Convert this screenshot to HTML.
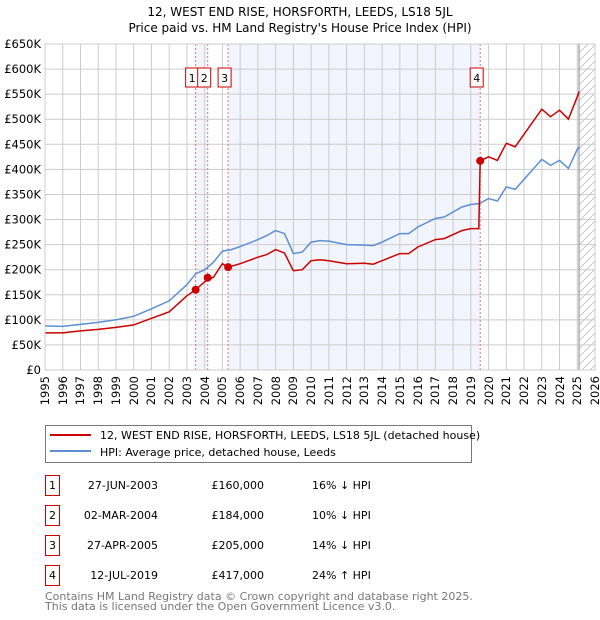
<!DOCTYPE html>
<html><head><meta charset="utf-8"><style>
body{margin:0;background:#fff;font-family:"DejaVu Sans","Liberation Sans",sans-serif;}
#wrap{position:relative;width:600px;height:620px;overflow:hidden;}
svg text{font-family:"DejaVu Sans","Liberation Sans",sans-serif;}
.xl{position:absolute;top:376px;width:40px;height:14px;line-height:14px;font-size:11.5px;text-align:right;transform-origin:100% 50%;color:#000;white-space:nowrap;}
</style></head><body><div id="wrap">
<svg id="chart" width="600" height="620" style="position:absolute;left:0;top:0"></svg>
</div>
<script>
const hpiYears=[1995,1996,1997,1998,1999,2000,2001,2002,2003,2003.5,2004,2004.5,2005,2005.5,2006,2007,2007.5,2008,2008.5,2009,2009.5,2010,2010.5,2011,2012,2013,2013.5,2014,2015,2015.5,2016,2017,2017.5,2018,2018.5,2019,2019.5,2020,2020.5,2021,2021.5,2022,2022.5,2023,2023.5,2024,2024.5,2025,2025.1];
const hpiValues=[88,87,91,95,100,107,122,138,170,192,200,215,237,240,246,260,268,278,272,232,235,255,258,257,250,249,248,255,272,272,285,302,305,315,325,330,332,342,337,365,360,380,400,420,408,418,402,440,445];
const paidYears=[1995,1996,1997,1998,1999,2000,2001,2002,2003,2003.49,2004,2004.5,2005,2005.32,2006,2007,2007.5,2008,2008.5,2009,2009.5,2010,2010.5,2011,2012,2013,2013.5,2014,2015,2015.5,2016,2017,2017.5,2018,2018.5,2019,2019.45,2019.53,2020,2020.5,2021,2021.5,2022,2022.5,2023,2023.5,2024,2024.5,2025,2025.1];
const paidValues=[74,74,78,81,85,90,103,116,148,160,176,185,212,205,212,225,230,240,233,198,200,218,220,218,212,213,211,218,232,232,245,260,262,270,278,282,282,417,425,418,452,445,470,495,520,505,518,500,545,555];
const saleYears=[2003.49,2004.17,2005.32,2019.53];
const saleValues=[160,184,205,417];
const saleLabels=["1","2","3","4"];
const yTicks=[0,50,100,150,200,250,300,350,400,450,500,550,600,650];
const yTickLabels=["£0","£50K","£100K","£150K","£200K","£250K","£300K","£350K","£400K","£450K","£500K","£550K","£600K","£650K"];
const xTicks=[1995,1996,1997,1998,1999,2000,2001,2002,2003,2004,2005,2006,2007,2008,2009,2010,2011,2012,2013,2014,2015,2016,2017,2018,2019,2020,2021,2022,2023,2024,2025,2026];

const NS="http://www.w3.org/2000/svg";
const svg=document.getElementById('chart');
const wrap=document.getElementById('wrap');
const L=45,R=595,T=44,B=370;
const X=y=>L+(y-1995)*(R-L)/31;
const Y=v=>B-v*(B-T)/650;
function mk(tag,attrs,parent){const e=document.createElementNS(NS,tag);for(const k in attrs)e.setAttribute(k,attrs[k]);(parent||svg).appendChild(e);return e;}

let t=mk('text',{x:300,y:16,'text-anchor':'middle','font-size':12,fill:'#000'});t.textContent="12, WEST END RISE, HORSFORTH, LEEDS, LS18 5JL";

t=mk('text',{x:300,y:32,'text-anchor':'middle','font-size':12,fill:'#000'});t.textContent="Price paid vs. HM Land Registry's House Price Index (HPI)";


let s=mk('rect',{x:X(saleYears[0]),y:T,width:X(saleYears[1])-X(saleYears[0]),height:B-T,fill:'#f2f5fd'});

s=mk('rect',{x:X(saleYears[2]),y:T,width:X(saleYears[3])-X(saleYears[2]),height:B-T,fill:'#f2f5fd'});

const defs=mk('defs',{});
const pat=mk('pattern',{id:'hatch',width:8,height:8,patternUnits:'userSpaceOnUse'},defs);
mk('path',{d:'M0,8 L8,0',stroke:'#bbb','stroke-width':0.8},pat);
s=mk('rect',{x:X(2025.1),y:T,width:R-X(2025.1),height:B-T,fill:'url(#hatch)'});


for(let i=0;i<yTicks.length;i++){
  const g=mk('line',{x1:L,x2:R,y1:Y(yTicks[i]),y2:Y(yTicks[i]),stroke:'#ccc','stroke-width':1});
  
  const lt=mk('text',{x:41,y:Y(yTicks[i])+4,'text-anchor':'end','font-size':11.5,fill:'#000'});lt.textContent=yTickLabels[i];
  
}
for(const yr of xTicks){
  const g=mk('line',{x1:X(yr),x2:X(yr),y1:T,y2:B,stroke:'#ccc','stroke-width':1});
  
  // HTML rotated label: right edge pinned at (X, 376), rotated -90deg around right-middle
  const d=document.createElement('div');
  d.className='xl';
  d.textContent=String(yr);
  d.style.left=(X(yr)-40)+'px';
  d.style.top='369px';
  d.style.transform='rotate(-90deg)';
  
  
  wrap.appendChild(d);
}
mk('line',{x1:X(2025.1),x2:X(2025.1),y1:T,y2:B,stroke:'#999','stroke-width':1.2});

for(let i=0;i<saleYears.length;i++){
  const l=mk('line',{x1:X(saleYears[i]),x2:X(saleYears[i]),y1:T,y2:B,stroke:'#f07070','stroke-width':1,'stroke-dasharray':'2,2'});
  
}
for(let i=0;i<saleYears.length;i++){
  const bx=X(saleYears[i])-10;
  const g=mk('g',{});
  
  mk('rect',{x:bx,y:68,width:13,height:19,fill:'#fff',stroke:'#c00','stroke-width':1},g);
  const tt=mk('text',{x:bx+6.5,y:82,'text-anchor':'middle','font-size':11,fill:'#000'},g);tt.textContent=saleLabels[i];
}

function pathOf(xs,vs){return xs.map((x,i)=>(i?'L':'M')+X(x).toFixed(1)+','+Y(vs[i]).toFixed(1)).join(' ');}
let p=mk('path',{d:pathOf(hpiYears,hpiValues),fill:'none',stroke:'#5b8fd4','stroke-width':1.5});

p=mk('path',{d:pathOf(paidYears,paidValues),fill:'none',stroke:'#cc0000','stroke-width':1.5});

for(let i=0;i<saleYears.length;i++){
  const c=mk('circle',{cx:X(saleYears[i]),cy:Y(saleValues[i]),r:4,fill:'#cc0000'});
  
}
mk('rect',{x:L,y:T,width:R-L,height:B-T,fill:'none',stroke:'#ccc','stroke-width':1});

const lg=mk('g',{});
mk('rect',{x:45.5,y:425.5,width:426,height:37,fill:'#fff',stroke:'#777','stroke-width':1},lg);
mk('line',{x1:50,x2:91,y1:435,y2:435,stroke:'#cc0000','stroke-width':2},lg);
mk('line',{x1:50,x2:91,y1:451,y2:451,stroke:'#5b8fd4','stroke-width':2},lg);
let lt=mk('text',{x:100,y:439,'font-size':11,fill:'#000'},lg);lt.textContent="12, WEST END RISE, HORSFORTH, LEEDS, LS18 5JL (detached house)";

lt=mk('text',{x:100,y:456,'font-size':11,fill:'#000'},lg);lt.textContent="HPI: Average price, detached house, Leeds";


const dates=["27-JUN-2003","02-MAR-2004","27-APR-2005","12-JUL-2019"];
const prices=["£160,000","£184,000","£205,000","£417,000"];
const rel=["16% ↓ HPI","10% ↓ HPI","14% ↓ HPI","24% ↑ HPI"];
for(let i=0;i<4;i++){
  const y0=475+i*30;
  const g=mk('g',{});
  mk('rect',{x:45.5,y:y0+0.5,width:14,height:20,fill:'#fff',stroke:'#c00','stroke-width':1},g);
  let a=mk('text',{x:52.5,y:y0+14,'text-anchor':'middle','font-size':11,fill:'#000'},g);a.textContent=i+1;
  a=mk('text',{x:158,y:y0+14,'text-anchor':'end','font-size':11,fill:'#000'},g);a.textContent=dates[i];
  a=mk('text',{x:264,y:y0+14,'text-anchor':'end','font-size':11,fill:'#000'},g);a.textContent=prices[i];
  a=mk('text',{x:312,y:y0+14,'font-size':11,fill:'#000'},g);a.textContent=rel[i];
}
let f=mk('text',{x:45,y:600,'font-size':11,fill:'#777'});f.textContent="Contains HM Land Registry data © Crown copyright and database right 2025.";

f=mk('text',{x:45,y:610,'font-size':11,fill:'#777'});f.textContent="This data is licensed under the Open Government Licence v3.0.";

</script></body></html>
